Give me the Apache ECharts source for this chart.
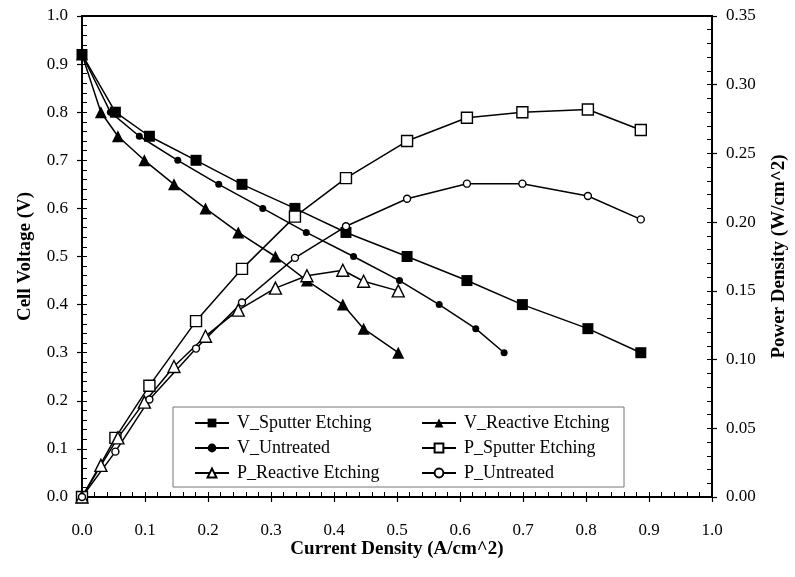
<!DOCTYPE html>
<html>
<head>
<meta charset="utf-8">
<script src="https://cdn.jsdelivr.net/npm/echarts@6/dist/echarts.min.js"></script>
<style>
  html, body { margin: 0; padding: 0; background: #fff; }
  #chart { width: 795px; height: 577px; }
</style>
</head>
<body>
<div id="chart"></div>
<script>
// Polarization and power curves for three electrode treatments
const xSputter   = [0, 0.053, 0.107, 0.181, 0.254, 0.338, 0.419, 0.516, 0.611, 0.699, 0.803, 0.887];
const vSputter   = [0.92, 0.80, 0.75, 0.70, 0.65, 0.60, 0.55, 0.50, 0.45, 0.40, 0.35, 0.30];
const pSputter   = [0, 0.043, 0.081, 0.128, 0.166, 0.204, 0.232, 0.259, 0.276, 0.280, 0.282, 0.267];

const xReactive  = [0, 0.030, 0.057, 0.099, 0.146, 0.196, 0.248, 0.307, 0.357, 0.414, 0.447, 0.502];
const vReactive  = [0.92, 0.80, 0.75, 0.70, 0.65, 0.60, 0.55, 0.50, 0.45, 0.40, 0.35, 0.30];
const pReactive  = [0, 0.023, 0.043, 0.069, 0.095, 0.117, 0.136, 0.152, 0.161, 0.165, 0.157, 0.150];

const xUntreatedV = [0, 0.045, 0.091, 0.152, 0.217, 0.287, 0.356, 0.431, 0.504, 0.567, 0.625, 0.670];
const vUntreated  = [0.92, 0.80, 0.75, 0.70, 0.65, 0.60, 0.55, 0.50, 0.45, 0.40, 0.35, 0.30];
const xUntreatedP = [0, 0.053, 0.107, 0.181, 0.254, 0.338, 0.419, 0.516, 0.611, 0.699, 0.803, 0.887];
const pUntreated  = [0, 0.033, 0.071, 0.108, 0.1415, 0.174, 0.197, 0.217, 0.228, 0.228, 0.219, 0.202];

const seriesNames = ['V_Sputter Etching', 'V_Reactive Etching', 'V_Untreated',
                     'P_Sputter Etching', 'P_Reactive Etching', 'P_Untreated'];

const FONT = '"Liberation Serif", "Times New Roman", serif';

function pairs(xs, ys) { return xs.map((x, i) => [x, ys[i]]); }

function lineSeries(name, xs, ys, yAxisIndex, symbol, size, filled) {
  return {
    name, type: 'line', xAxisIndex: 0, yAxisIndex,
    data: pairs(xs, ys),
    symbol, symbolSize: size,
    showSymbol: true,
    lineStyle: { color: '#000', width: 1.5 },
    itemStyle: filled
      ? { color: '#000', borderColor: '#000', borderWidth: 0 }
      : { color: '#fff', borderColor: '#000', borderWidth: 1.4 },
    emphasis: { disabled: true },
    animation: false
  };
}

const chart = echarts.init(document.getElementById('chart'), null, { renderer: 'canvas' });

const baseLabel = { color: '#000', fontFamily: FONT, fontSize: 17 };
const nameStyle = { color: '#000', fontFamily: FONT, fontSize: 19, fontWeight: 'bold' };
const axisLine = { show: true, lineStyle: { color: '#000', width: 2 } };
const legendText = { color: '#000', fontFamily: FONT, fontSize: 18, lineHeight: 18, padding: [0, 0, 0, 3] };

chart.setOption({
  backgroundColor: '#fff',
  animation: false,
  grid: {
    left: 82, right: 83, top: 16, bottom: 80,
    show: true, borderColor: '#000', borderWidth: 2,
    outerBoundsMode: 'none'
  },
  xAxis: [
    {
      type: 'value', min: 0, max: 1, interval: 0.1, position: 'bottom',
      name: 'Current Density (A/cm^2)', nameLocation: 'middle', nameGap: 43,
      nameMoveOverlap: false,
      nameTextStyle: nameStyle,
      axisLine,
      axisTick: { show: true, inside: false, length: 5, lineStyle: { color: '#000', width: 1.2 } },
      axisLabel: Object.assign({ margin: 25, formatter: v => v.toFixed(1) }, baseLabel),
      splitLine: { show: false }
    },
    {
      // minor ticks pointing into the plot
      type: 'value', min: 0, max: 1, interval: 0.02, position: 'bottom',
      axisLine: { show: false },
      axisTick: { show: true, inside: true, length: 5, lineStyle: { color: '#000', width: 1 } },
      axisLabel: { show: false },
      splitLine: { show: false }
    }
  ],
  yAxis: [
    {
      type: 'value', min: 0, max: 1, interval: 0.1, position: 'left',
      name: 'Cell Voltage (V)', nameLocation: 'middle', nameGap: 47, nameRotate: 90,
      nameTextStyle: nameStyle,
      axisLine,
      axisTick: { show: true, inside: false, length: 5, lineStyle: { color: '#000', width: 1.2 } },
      axisLabel: Object.assign({ margin: 14, formatter: v => v.toFixed(1) }, baseLabel),
      splitLine: { show: false }
    },
    {
      type: 'value', min: 0, max: 1, interval: 0.02, position: 'left',
      axisLine: { show: false },
      axisTick: { show: true, inside: true, length: 5, lineStyle: { color: '#000', width: 1 } },
      axisLabel: { show: false },
      splitLine: { show: false }
    },
    {
      type: 'value', min: 0, max: 0.35, interval: 0.05, position: 'right',
      name: 'Power Density (W/cm^2)', nameLocation: 'middle', nameGap: 58, nameRotate: 90,
      nameTextStyle: nameStyle,
      axisLine,
      axisTick: { show: true, inside: false, length: 5, lineStyle: { color: '#000', width: 1.2 } },
      axisLabel: Object.assign({ margin: 14, formatter: v => v.toFixed(2) }, baseLabel),
      splitLine: { show: false }
    },
    {
      type: 'value', min: 0, max: 0.35, interval: 0.01, position: 'right',
      axisLine: { show: false },
      axisTick: { show: true, inside: true, length: 5, lineStyle: { color: '#000', width: 1 } },
      axisLabel: { show: false },
      splitLine: { show: false }
    }
  ],
  graphic: [
    {
      type: 'rect', z: 5,
      shape: { x: 173, y: 407, width: 451, height: 80 },
      style: { fill: '#fff', stroke: '#777', lineWidth: 1 }
    }
  ],
  legend: [
    {
      orient: 'vertical', left: 189, top: 409, z: 10,
      itemWidth: 34, itemHeight: 11, itemGap: 7,
      data: [seriesNames[0], seriesNames[2], seriesNames[4]],
      textStyle: legendText,
      selectedMode: false
    },
    {
      orient: 'vertical', left: 416, top: 409, z: 10,
      itemWidth: 34, itemHeight: 11, itemGap: 7,
      data: [seriesNames[1], seriesNames[3], seriesNames[5]],
      textStyle: legendText,
      selectedMode: false
    }
  ],
  series: [
    lineSeries(seriesNames[0], xSputter, vSputter, 0, 'rect', 11, true),
    lineSeries(seriesNames[1], xReactive, vReactive, 0, 'triangle', 12, true),
    lineSeries(seriesNames[2], xUntreatedV, vUntreated, 0, 'circle', 7, true),
    lineSeries(seriesNames[3], xSputter, pSputter, 2, 'rect', 11, false),
    lineSeries(seriesNames[4], xReactive, pReactive, 2, 'triangle', 12, false),
    lineSeries(seriesNames[5], xUntreatedP, pUntreated, 2, 'circle', 7, false)
  ]
});
</script>
</body>
</html>
